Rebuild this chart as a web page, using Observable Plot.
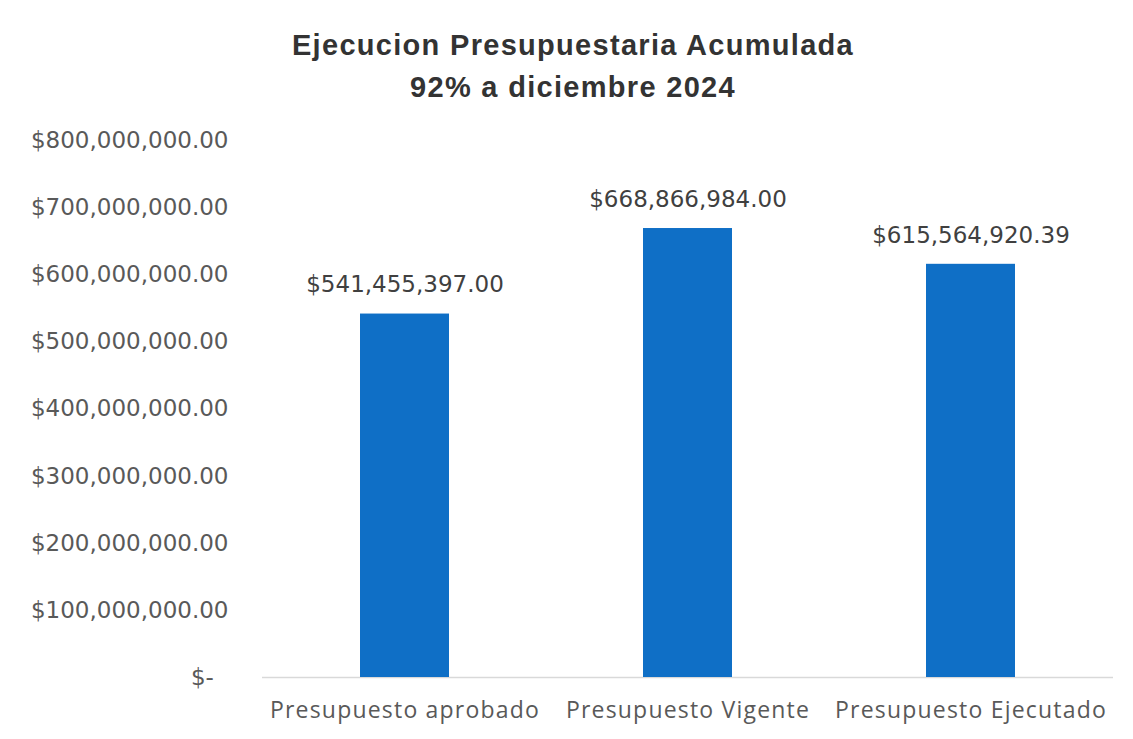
<!DOCTYPE html>
<html><head><meta charset="utf-8">
<script src="https://cdn.jsdelivr.net/npm/d3@7"></script>
<script src="https://cdn.jsdelivr.net/npm/@observablehq/plot@0.6"></script>
<style>
body{margin:0;background:#fff;}
#title{height:115px;box-sizing:border-box;padding-top:24px;padding-left:13px;text-align:center;font-family:"Liberation Sans",Arial,sans-serif;font-weight:bold;font-size:29px;letter-spacing:1.3px;line-height:42px;color:#333;}
g[aria-label="x-axis tick label"] text{letter-spacing:1.2px;}
</style></head><body>
<div id="title"><div>Ejecucion Presupuestaria Acumulada</div><div>92% a diciembre 2024</div></div>
<div id="chart"></div>
<script>
const categories = ["Presupuesto aprobado", "Presupuesto Vigente", "Presupuesto Ejecutado"];
const values = [541455397.00, 668866984.00, 615564920.39];
const yTicks = [0, 100000000, 200000000, 300000000, 400000000, 500000000, 600000000, 700000000, 800000000];
const data = categories.map((c, i) => ({category: c, value: values[i]}));
const money = d => d === 0 ? "$-\u00A0\u00A0" : "$" + d3.format(",.2f")(d);
const chart = Plot.plot({
  width: 1133, height: 624,
  marginTop: 25, marginBottom: 62, marginLeft: 262, marginRight: 20,
  style: {fontFamily: "'DejaVu Sans', sans-serif", fontSize: "23px", color: "#595959", background: "transparent", overflow: "visible"},
  x: {domain: categories, paddingInner: 0.686, paddingOuter: 0.343, label: null},
  y: {domain: [0, 800000000], label: null},
  marks: [
    Plot.axisY({ticks: yTicks, tickSize: 0, tickPadding: 34, tickFormat: money, fontSize: 23, fill: "#595959"}),
    Plot.axisX({tickSize: 0, tickPadding: 24, fontSize: 23, fill: "#595959", fontFamily: "'Open Sans', sans-serif"}),
    Plot.ruleY([0], {stroke: "#d9d9d9", strokeWidth: 1.5}),
    Plot.barY(data, {x: "category", y: "value", fill: "#0f6fc6"}),
    Plot.text(data, {x: "category", y: "value", text: d => money(d.value), dy: -29, fontSize: 23, fill: "#404040"})
  ]
});
document.getElementById("chart").appendChild(chart);
</script>
</body></html>
